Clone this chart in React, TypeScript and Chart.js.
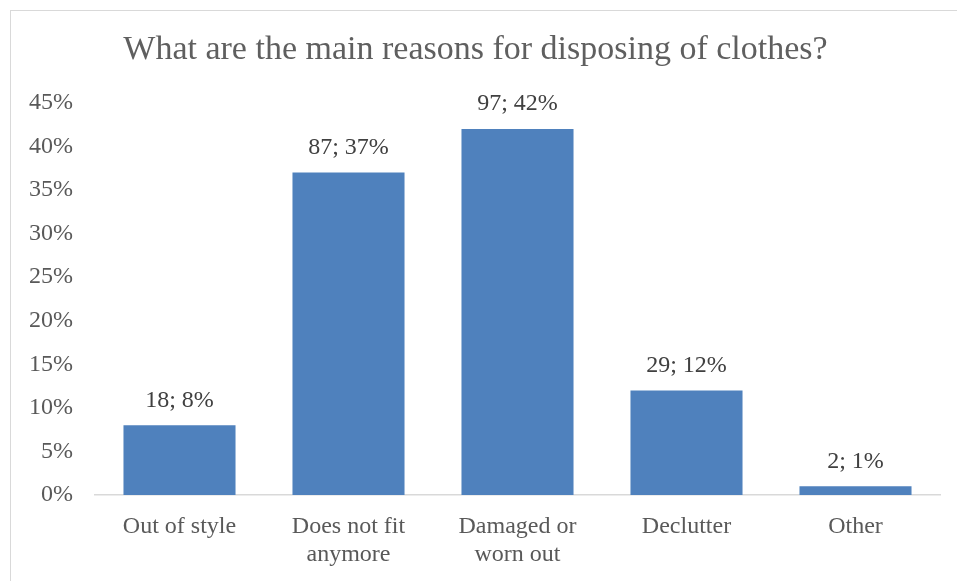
import React, { useEffect, useRef } from "react";
import { Chart, registerables } from "chart.js";

Chart.register(...registerables);

const categories: (string | string[])[] = [
  "Out of style",
  ["Does not fit", "anymore"],
  ["Damaged or", "worn out"],
  "Declutter",
  "Other",
];
const counts = [18, 87, 97, 29, 2];
const percents = [8, 37, 42, 12, 1];
const yTicks = [0, 5, 10, 15, 20, 25, 30, 35, 40, 45];

const FONT = "'Liberation Serif', 'Times New Roman', serif";

const dataLabelPlugin = {
  id: "dataLabels",
  afterDatasetsDraw(chart: any) {
    const ctx = chart.ctx;
    const meta = chart.getDatasetMeta(0);
    ctx.save();
    ctx.font = `24px ${FONT}`;
    ctx.fillStyle = "#404040";
    ctx.textAlign = "center";
    ctx.textBaseline = "middle";
    meta.data.forEach((bar: any, i: number) => {
      ctx.fillText(`${counts[i]}; ${percents[i]}%`, bar.x, bar.y - 25);
    });
    ctx.restore();
  },
};

export default function App() {
  const ref = useRef<HTMLCanvasElement | null>(null);
  useEffect(() => {
    if (!ref.current) return;
    const chart = new Chart(ref.current, {
      type: "bar",
      data: {
        labels: categories,
        datasets: [
          {
            data: percents,
            backgroundColor: "#4F81BD",
            barPercentage: 0.663,
            categoryPercentage: 1,
          },
        ],
      },
      options: {
        responsive: false,
        animation: false,
        layout: { padding: { left: 0, right: 17, top: 0, bottom: 0 } },
        plugins: {
          legend: { display: false },
          tooltip: { enabled: false },
          title: {
            display: true,
            text: "What are the main reasons for disposing of clothes?",
            color: "#5f5f5f",
            font: { family: FONT, size: 34, weight: "normal" },
            padding: { top: 19, bottom: 32 },
          },
        },
        scales: {
          x: {
            afterFit: (scale: any) => {
              scale.height = 86;
            },
            grid: { display: false, drawTicks: false },
            border: { display: true, color: "#d9d9d9", width: 1.5 },
            ticks: {
              color: "#595959",
              font: { family: FONT, size: 24, lineHeight: 1.17 },
              padding: 18,
              maxRotation: 0,
              autoSkip: false,
            },
          },
          y: {
            min: 0,
            max: 45,
            afterFit: (scale: any) => {
              scale.width = 84;
            },
            afterBuildTicks: (scale: any) => {
              scale.ticks = yTicks.map((v) => ({ value: v }));
            },
            grid: { display: false, drawTicks: false },
            border: { display: false },
            ticks: {
              color: "#595959",
              font: { family: FONT, size: 24 },
              padding: 22,
              callback: (v: any) => `${v}%`,
            },
          },
        },
      },
      plugins: [dataLabelPlugin],
    });
    return () => chart.destroy();
  }, []);

  return (
    <div
      style={{
        position: "absolute",
        left: 10,
        top: 10,
        width: 947,
        height: 571,
        borderTop: "1px solid #d9d9d9",
        borderLeft: "1px solid #d9d9d9",
        boxSizing: "border-box",
        background: "#fff",
      }}
    >
      <canvas ref={ref} width={946} height={570} style={{ display: "block", width: 946, height: 570 }} />
    </div>
  );
}
